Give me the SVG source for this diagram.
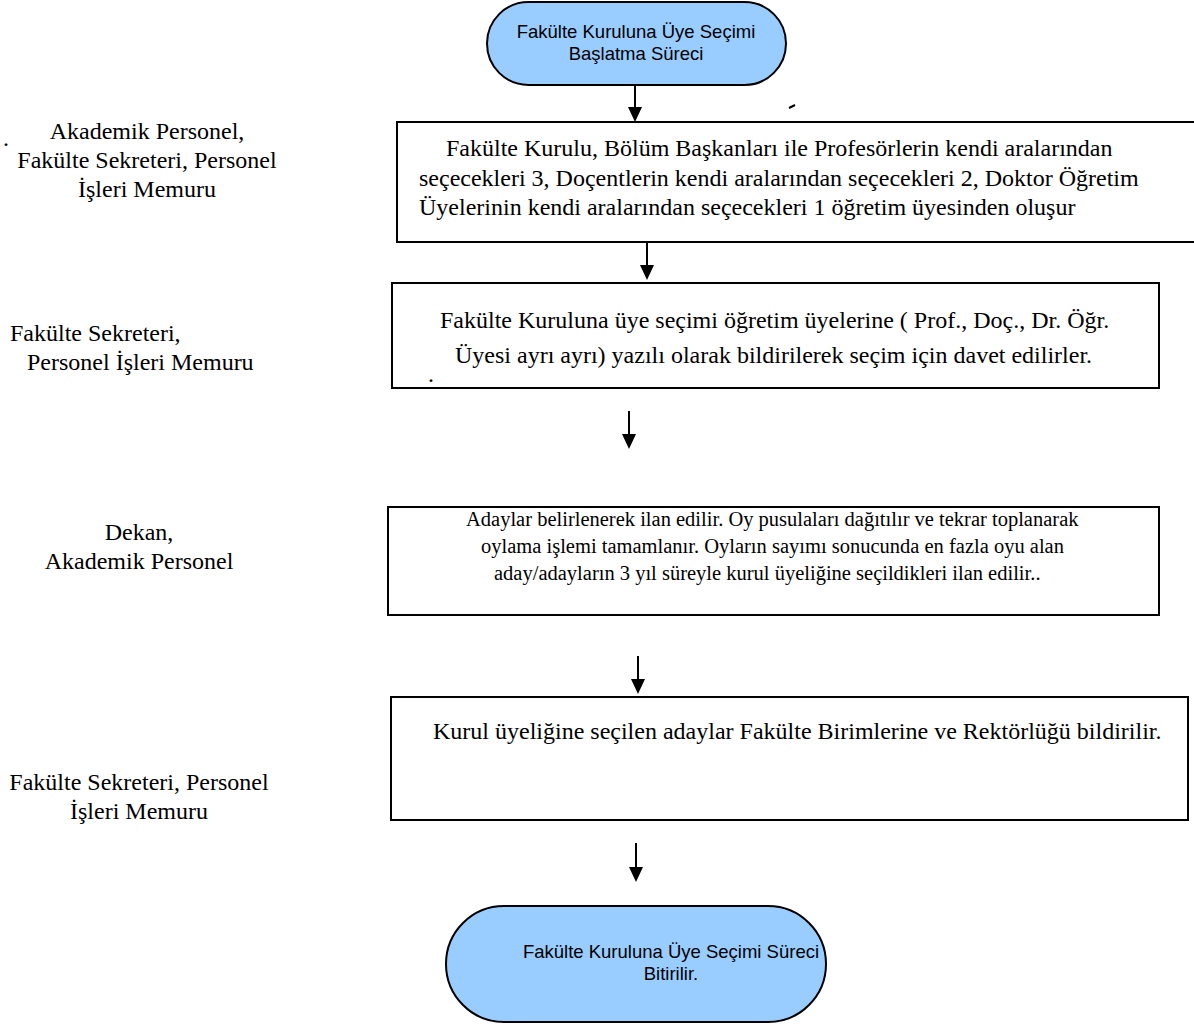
<svg xmlns="http://www.w3.org/2000/svg" width="1194" height="1026" viewBox="0 0 1194 1026">
<defs>
<marker id="ah" viewBox="0 0 15 14" refX="2" refY="7" markerWidth="15" markerHeight="14" markerUnits="userSpaceOnUse" orient="auto">
<path d="M0,0 L15,7 L0,14 Z" fill="#000"/>
</marker>
</defs>
<style>
.box{fill:#fff;stroke:#000;stroke-width:2}
.term{fill:#99CCFF;stroke:#000;stroke-width:2}
.t{font-family:"Liberation Serif","Times New Roman",serif;font-size:24px;fill:#000}
.ts{font-family:"Liberation Serif","Times New Roman",serif;font-size:20.5px;fill:#000}
.lab{font-family:"Liberation Serif","Times New Roman",serif;font-size:24px;fill:#000}
.c{font-family:"Liberation Sans",Arial,sans-serif;font-size:18.5px;fill:#000;text-anchor:middle}
.conn{stroke:#000;stroke-width:2;fill:none}
</style>
<rect width="1194" height="1026" fill="#fff"/>

<g id="start">
<rect class="term" x="487" y="2" width="299" height="83" rx="41.5" ry="41.5"/>
<text class="c" x="636" y="38">Fakülte Kuruluna Üye Seçimi</text>
<text class="c" x="636" y="60">Başlatma Süreci</text>
</g>

<g id="step1">
<rect class="box" x="397" y="122" width="810" height="120"/>
<text class="t" x="446" y="156">Fakülte Kurulu, Bölüm Başkanları ile Profesörlerin kendi aralarından</text>
<text class="t" x="419" y="186">seçecekleri 3, Doçentlerin kendi aralarından seçecekleri 2, Doktor Öğretim</text>
<text class="t" x="419" y="215">Üyelerinin kendi aralarından seçecekleri 1 öğretim üyesinden oluşur</text>
</g>

<g id="step2">
<rect class="box" x="392" y="283" width="767" height="105"/>
<text class="t" x="440" y="328">Fakülte Kuruluna üye seçimi öğretim üyelerine ( Prof., Doç., Dr. Öğr.</text>
<text class="t" x="455" y="363">Üyesi ayrı ayrı) yazılı olarak bildirilerek seçim için davet edilirler.</text>
<text class="t" x="428" y="382">.</text>
</g>

<g id="step3">
<rect class="box" x="388" y="507" width="771" height="108"/>
<text class="ts" x="466" y="526">Adaylar belirlenerek ilan edilir. Oy pusulaları dağıtılır ve tekrar toplanarak</text>
<text class="ts" x="481" y="553">oylama işlemi tamamlanır. Oyların sayımı sonucunda en fazla oyu alan</text>
<text class="ts" x="494" y="580">aday/adayların 3 yıl süreyle kurul üyeliğine seçildikleri ilan edilir..</text>
</g>

<g id="step4">
<rect class="box" x="391" y="697" width="797" height="123"/>
<text class="t" x="433" y="739">Kurul üyeliğine seçilen adaylar Fakülte Birimlerine ve Rektörlüğü bildirilir.</text>
</g>

<g id="end">
<rect class="term" x="446" y="906" width="380" height="116" rx="58" ry="58"/>
<text class="c" x="671" y="958">Fakülte Kuruluna Üye Seçimi Süreci</text>
<text class="c" x="671" y="980">Bitirilir.</text>
</g>

<g id="labels">
<text class="lab" x="3" y="146">.</text>
<text class="lab" x="147" y="139" text-anchor="middle">Akademik Personel,</text>
<text class="lab" x="147" y="168" text-anchor="middle">Fakülte Sekreteri, Personel</text>
<text class="lab" x="147" y="197" text-anchor="middle">İşleri Memuru</text>
<text class="lab" x="10" y="341">Fakülte Sekreteri,</text>
<text class="lab" x="27" y="370">Personel İşleri Memuru</text>
<text class="lab" x="139" y="540" text-anchor="middle">Dekan,</text>
<text class="lab" x="139" y="569" text-anchor="middle">Akademik Personel</text>
<text class="lab" x="139" y="790" text-anchor="middle">Fakülte Sekreteri, Personel</text>
<text class="lab" x="139" y="819" text-anchor="middle">İşleri Memuru</text>
</g>

<g id="connectors">
<line class="conn" x1="635" y1="85" x2="635" y2="109" marker-end="url(#ah)"/>
<line class="conn" x1="647" y1="243" x2="647" y2="267" marker-end="url(#ah)"/>
<line class="conn" x1="629" y1="411" x2="629" y2="436" marker-end="url(#ah)"/>
<line class="conn" x1="638" y1="656" x2="638" y2="681" marker-end="url(#ah)"/>
<line class="conn" x1="636" y1="843" x2="636" y2="869" marker-end="url(#ah)"/>
<path d="M789,108 L795,105" stroke="#000" stroke-width="2"/>
</g>
</svg>
